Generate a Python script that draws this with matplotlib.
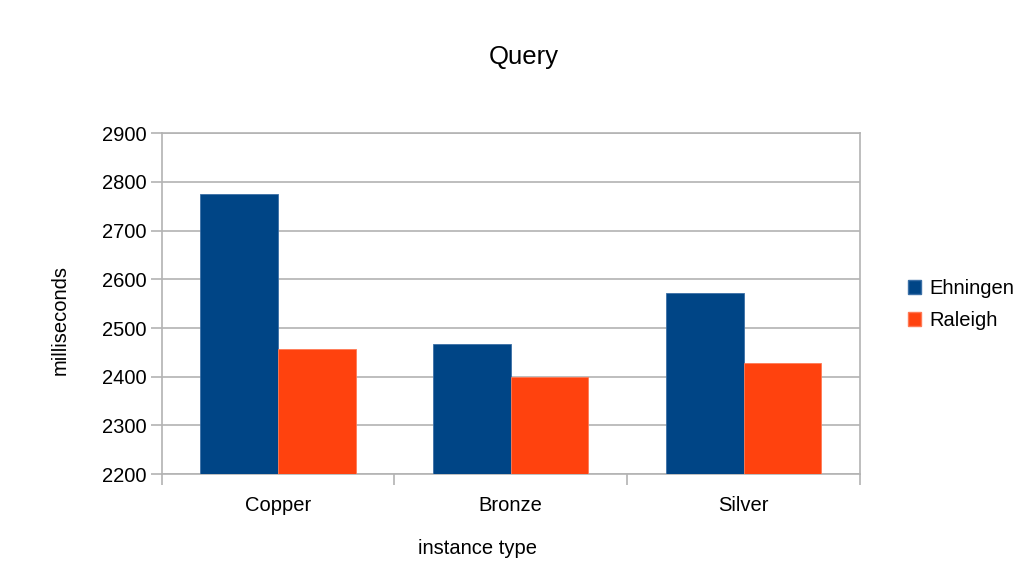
import matplotlib
matplotlib.use("Agg")
import matplotlib.pyplot as plt
from matplotlib.patches import Patch
import numpy as np

categories = ["Copper", "Bronze", "Silver"]
ehningen = [2775, 2467, 2572]
raleigh = [2456, 2400, 2429]
yticks = [2200, 2300, 2400, 2500, 2600, 2700, 2800, 2900]

plt.rcParams["font.family"] = ["Liberation Sans", "DejaVu Sans"]

fig = plt.figure(figsize=(10.31, 5.86), dpi=100)
ax = fig.add_axes([0.1568, 0.1911, 0.6773, 0.5814])

blue = "#004586"
orange = "#ff420e"
grid = "#b3b3b3"
fs = 14.5

x = np.arange(len(categories))
w = 1 / 3
ax.bar(x - w / 2, ehningen, width=w, color=blue, edgecolor="#3b6fa6", linewidth=0.6, zorder=3)
ax.bar(x + w / 2, raleigh, width=w, color=orange, edgecolor="#ff7a55", linewidth=0.6, zorder=3)

ax.set_xlim(-0.5, len(categories) - 0.5)
ax.set_ylim(2200, 2900)
ax.set_yticks(yticks)
ax.set_yticklabels([str(t) for t in yticks])
ax.yaxis.grid(True, color=grid, linewidth=1.2, zorder=0)

ax.set_xticks(np.arange(len(categories) + 1) - 0.5)
ax.set_xticklabels([])
ax.set_xticks(x, minor=True)
ax.set_xticklabels(categories, minor=True)
ax.tick_params(axis="x", which="major", length=8, width=1.2, color=grid)
ax.tick_params(axis="x", which="minor", length=0, pad=15.5, labelsize=fs)
ax.tick_params(axis="y", length=8, width=1.2, color=grid, labelsize=fs, pad=3)

for s in ax.spines.values():
    s.set_color(grid)
    s.set_linewidth(1.2)

fig.text(477 / 1031, 1 - 548 / 586, "instance type", ha="center", va="center", fontsize=fs)
fig.text(60 / 1031, 1 - 320 / 586, "milliseconds", ha="center", va="center",
         rotation=90, fontsize=fs)
fig.text(524 / 1031, 1 - 57 / 586, "Query", ha="center", va="center", fontsize=18.5)

handles = [Patch(facecolor=blue, edgecolor="#3b6fa6"), Patch(facecolor=orange, edgecolor="#ff7a55")]
fig.legend(handles, ["Ehningen", "Raleigh"], loc="center left", bbox_to_anchor=(908 / 1031, 1 - 304.5 / 586),
           frameon=False, fontsize=fs, handlelength=0.65, handleheight=0.65,
           handletextpad=0.4, labelspacing=0.65, borderpad=0, borderaxespad=0)

fig.savefig("out.png", dpi=100)
